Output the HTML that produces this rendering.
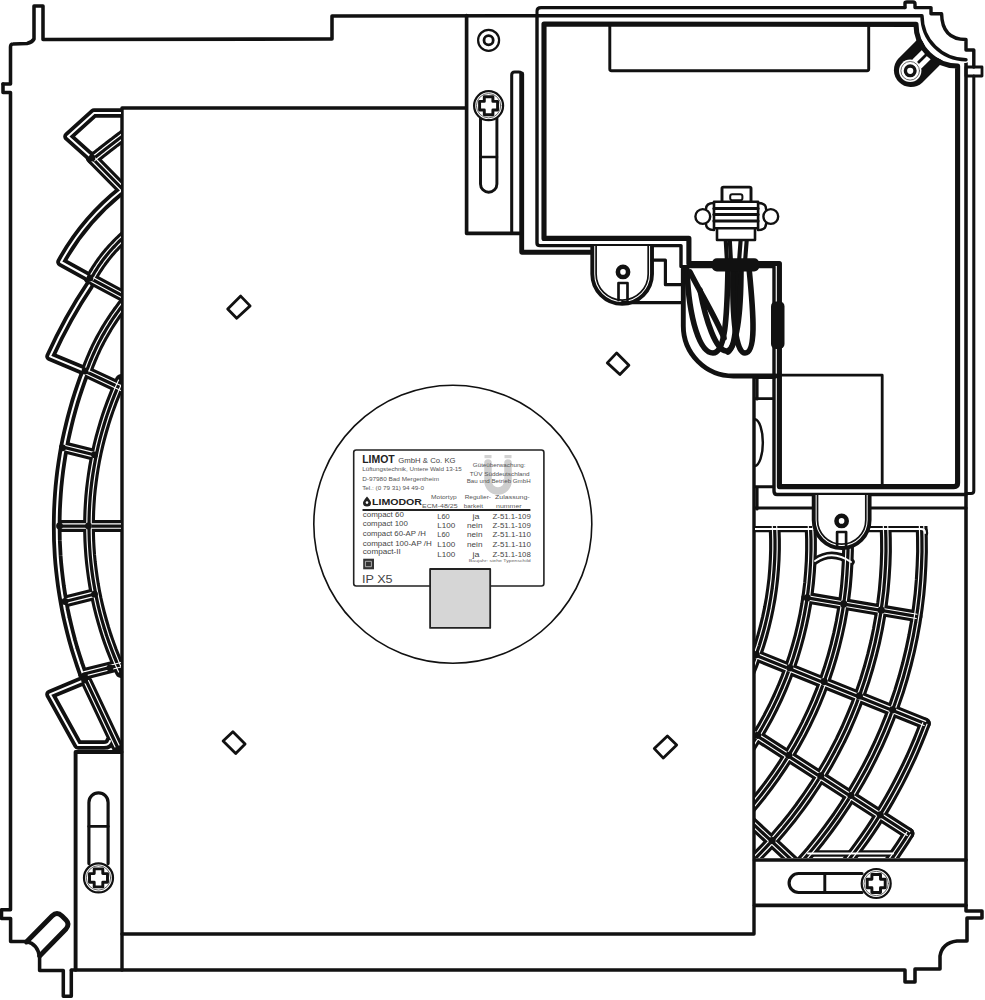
<!DOCTYPE html>
<html><head><meta charset="utf-8"><style>
html,body{margin:0;padding:0;background:#fff;}
svg{display:block;}
text{font-family:"Liberation Sans",sans-serif;}
</style></head><body>
<svg width="985" height="1000" viewBox="0 0 985 1000" stroke-linecap="round" stroke-linejoin="round">
<defs><filter id="soft" x="0" y="0" width="100%" height="100%"><feGaussianBlur stdDeviation="0.9"/></filter></defs>
<rect width="985" height="1000" fill="#fff"/>
<g>
<path d="M3,84 L10.5,84 L10.5,47 Q10.5,44 13,44 L27,43.5 Q32,42.5 34,39 L34,6 L43,6 L43,39.5 L332,39 L332,16 L537,15.7" fill="none" stroke="#111" stroke-width="3.54" />
<path d="M3,84 L3,92.5 L10.5,92.5 L10.5,909.8 L1.5,909.8 L1.5,918.4 L10.6,918.4 L10.6,941.5 L26.4,941.5 Q38,944 39.6,957.3 L39.6,970.5 L63.3,970.5 L63.3,996.2 L71.3,996.2 L71.3,970.5" fill="none" stroke="#111" stroke-width="3.54" />
<path d="M71.3,970 L905,970 L905,982 L915,982 L915,969 L940,969 L940,956 Q942,943 957,941 L967,941 L967,918 L982,918 L982,911 L966,911 L966,61" fill="none" stroke="#111" stroke-width="3.54" />
<path d="M26.4,942 L52,916 Q57,911 62,916 L66,920 Q70,924 66,929 L39.6,956" fill="none" stroke="#111" stroke-width="4.88" />
<path d="M466,108 L122,108 L122,970" fill="none" stroke="#111" stroke-width="3.42" />
<path d="M122,934 L754,934 L754,378" fill="none" stroke="#111" stroke-width="3.42" />
<path d="M466.6,15.7 L466.6,233.4 L519.5,233.4" fill="none" stroke="#111" stroke-width="3.66" />
<path d="M511.7,233 L511.7,75 Q511.7,72 514.7,72 L518.7,72 Q521.7,72 521.7,75" fill="none" stroke="#111" stroke-width="3.05" />
<path d="M521.7,74 L521.7,252.2 L592,252.2" fill="none" stroke="#111" stroke-width="4.88" />
<circle cx="488.6" cy="40.3" r="10.5" fill="none" stroke="#111" stroke-width="2.2"/>
<circle cx="488.6" cy="40.3" r="4.6" fill="none" stroke="#111" stroke-width="2.8"/>
<path d="M480.5,118 L480.5,184 A8.2,8.2 0 0 0 496.9,184 L496.9,118" fill="none" stroke="#111" stroke-width="2.93" />
<path d="M480.5,157 L496.9,157" fill="none" stroke="#111" stroke-width="2.68" />
<circle cx="488.6" cy="105.7" r="14.5" fill="#fff" stroke="#111" stroke-width="2.2"/>
<circle cx="488.6" cy="105.7" r="12.2" fill="none" stroke="#555" stroke-width="0.9"/>
<path d="M484.3,96.7 L492.90000000000003,96.7 L492.90000000000003,101.4 L497.6,101.4 L497.6,110.0 L492.90000000000003,110.0 L492.90000000000003,114.7 L484.3,114.7 L484.3,110.0 L479.6,110.0 L479.6,101.4 L484.3,101.4 Z" fill="none" stroke="#111" stroke-width="2.93" stroke-linejoin="round"/>
<path d="M537,15.7 L537,11 Q537,7.6 541,7.6 L905,7.6" fill="none" stroke="#111" stroke-width="3.05" />
<path d="M919.4,37.6 L898.2,58.8 A17,17 0 0 0 922.2,82.8 L943.4,61.6 Z" fill="#111"/>
<circle cx="958" cy="24" r="39.5" fill="#fff"/>
<circle cx="910.2" cy="70.8" r="11.2" fill="#fff"/>
<circle cx="910.2" cy="70.8" r="9.3" fill="none" stroke="#555" stroke-width="0.9"/>
<circle cx="910.2" cy="70.8" r="4.8" fill="none" stroke="#111" stroke-width="3.4"/>
<path d="M912.4,59.6 L926.2,45.8 L929.7,49.3 L915.9,63.1 Z" fill="#fff"/>
<path d="M917.9,65.1 L931.7,51.3 L935.2,54.8 L921.4,68.6 Z" fill="#fff"/>
<circle cx="958" cy="24" r="39.5" fill="#fff"/>
<path d="M537,15.7 L922,15.7 A44,44 0 0 0 966,59.7" fill="none" stroke="#111" stroke-width="3.42" />
<path d="M537,15.7 L537,243 Q537,245.6 540,245.6 L681,245.6 L681,266.6 L774,266.6 L774,491 Q774,494.5 777,494.5 L966,494.5" fill="none" stroke="#111" stroke-width="3.42" />
<path d="M544,24 L544,238.4 L688.9,238.4 L688.9,263.5 L779.4,263.5 L779.4,486.6 L954,486.6 Q957.6,486.6 957.6,483 L957.6,66 A41.6,41.6 0 0 1 916,24.4 Z" fill="none" stroke="#111" stroke-width="5.12" />
<path d="M905,7.6 L905,3 Q905,2 907,2 L913,2 Q915,2 915,4 L915,7.6 L931,7.6 L931,13.7 L941.6,13.7 Q942,39.5 966,39.5 L966,50 L973.8,50 L973.8,67" fill="none" stroke="#111" stroke-width="3.42" />
<path d="M966,67 L982,67 L982,76 L966,76 Z" fill="none" stroke="#111" stroke-width="2.81" />
<path d="M973.8,76 L973.8,491 Q973.8,493.4 971,493.4 L966,493.4" fill="none" stroke="#111" stroke-width="3.05" />
<path d="M609.8,24 L609.8,69 Q609.8,70.7 611.5,70.7 L867,70.7 Q868.7,70.7 868.7,69 L868.7,24" fill="none" stroke="#111" stroke-width="2.93" />
<path d="M755,508 L812,508" fill="none" stroke="#111" stroke-width="3.17" />
<path d="M870,508 L966,508" fill="none" stroke="#111" stroke-width="3.17" />
<path d="M779.4,375.2 L882.2,375.2 L882.2,486.6" fill="none" stroke="#111" stroke-width="2.81" />
<path d="M75.6,969.8 L75.6,752 L121.5,752" fill="none" stroke="#111" stroke-width="3.90" />
<path d="M88.9,863.6 L88.9,802.4 A9.6,9.6 0 0 1 108.1,802.4 L108.1,863.6" fill="none" stroke="#111" stroke-width="3.17" />
<path d="M88.9,826.4 L108.1,826.4" fill="none" stroke="#111" stroke-width="2.93" />
<circle cx="98.5" cy="877.9" r="14.5" fill="#fff" stroke="#111" stroke-width="2.2"/>
<circle cx="98.5" cy="877.9" r="12.2" fill="none" stroke="#555" stroke-width="0.9"/>
<path d="M94.2,868.9 L102.8,868.9 L102.8,873.6 L107.5,873.6 L107.5,882.1999999999999 L102.8,882.1999999999999 L102.8,886.9 L94.2,886.9 L94.2,882.1999999999999 L89.5,882.1999999999999 L89.5,873.6 L94.2,873.6 Z" fill="none" stroke="#111" stroke-width="2.93" stroke-linejoin="round"/>
<path d="M754.5,860 L966,860" fill="none" stroke="#111" stroke-width="3.66" />
<path d="M754.5,905.4 L966,905.4" fill="none" stroke="#111" stroke-width="3.66" />
<path d="M862,873.5 L798.6,873.5 A9.5,9.5 0 0 0 798.6,892.5 L862,892.5" fill="none" stroke="#111" stroke-width="3.17" />
<path d="M824.8,873.5 L824.8,892.5" fill="none" stroke="#111" stroke-width="2.93" />
<circle cx="876.2" cy="883.5" r="14.5" fill="#fff" stroke="#111" stroke-width="2.2"/>
<circle cx="876.2" cy="883.5" r="12.2" fill="none" stroke="#555" stroke-width="0.9"/>
<path d="M871.9000000000001,874.5 L880.5,874.5 L880.5,879.2 L885.2,879.2 L885.2,887.8 L880.5,887.8 L880.5,892.5 L871.9000000000001,892.5 L871.9000000000001,887.8 L867.2,887.8 L867.2,879.2 L871.9000000000001,879.2 Z" fill="none" stroke="#111" stroke-width="2.93" stroke-linejoin="round"/>
<g clip-path="url(#cr)"><path d="M773.2,510.5 L774.1,520.3 L774.7,530.0 L775.0,539.8 L775.0,549.6 L774.7,559.4 L774.1,569.2 L773.3,578.9 L772.1,588.6 L770.7,598.3 L768.9,608.0 L766.9,617.5 L764.6,627.1 L762.1,636.5 L759.2,645.9 L756.1,655.2 L752.7,664.3 L749.0,673.4 L745.0,682.4 L740.8,691.2 L736.4,699.9 L731.6,708.5 L726.7,716.9 L721.4,725.2 L716.0,733.3 L710.3,741.3 L704.3,749.1 L698.2,756.7 L691.8,764.1 L685.2,771.3 L678.3,778.3 L671.3,785.2 L664.1,791.8 L656.7,798.2 L649.1,804.3 L641.3,810.3 L633.3,816.0 L625.2,821.4 L616.9,826.7 L608.5,831.6 L599.9,836.4" fill="none" stroke="#111" stroke-width="11.8"/><path d="M809.0,506.7 L810.0,517.6 L810.6,528.4 L811.0,539.3 L811.0,550.1 L810.7,561.0 L810.0,571.8 L809.1,582.6 L807.8,593.4 L806.2,604.1 L804.3,614.8 L802.0,625.5 L799.5,636.0 L796.6,646.5 L793.5,656.9 L790.0,667.2 L786.2,677.4 L782.2,687.4 L777.8,697.4 L773.1,707.2 L768.2,716.8 L762.9,726.3 L757.4,735.7 L751.6,744.9 L745.5,753.9 L739.2,762.7 L732.6,771.3 L725.8,779.8 L718.7,788.0 L711.4,796.0 L703.8,803.8 L696.0,811.4 L688.0,818.7 L679.8,825.8 L671.3,832.6 L662.7,839.2 L653.9,845.5 L644.9,851.6 L635.7,857.4 L626.3,862.9 L616.8,868.2" fill="none" stroke="#111" stroke-width="11.8"/><path d="M845.8,502.9 L846.9,514.8 L847.6,526.7 L848.0,538.7 L848.0,550.6 L847.6,562.6 L846.9,574.5 L845.9,586.4 L844.5,598.3 L842.7,610.1 L840.6,621.9 L838.1,633.6 L835.3,645.2 L832.2,656.8 L828.7,668.2 L824.9,679.5 L820.7,690.7 L816.2,701.8 L811.4,712.8 L806.3,723.6 L800.8,734.2 L795.1,744.7 L789.0,755.0 L782.6,765.1 L775.9,775.0 L769.0,784.7 L761.7,794.2 L754.2,803.5 L746.4,812.6 L738.3,821.4 L730.0,830.0 L721.4,838.3 L712.6,846.4 L703.5,854.2 L694.2,861.7 L684.7,869.0 L675.0,875.9 L665.1,882.6 L655.0,889.0 L644.7,895.1 L634.2,900.8" fill="none" stroke="#111" stroke-width="11.8"/><path d="M883.6,498.9 L884.8,511.9 L885.5,525.0 L885.9,538.1 L886.0,551.2 L885.6,564.2 L884.8,577.3 L883.7,590.3 L882.1,603.3 L880.2,616.3 L877.9,629.1 L875.2,642.0 L872.1,654.7 L868.7,667.3 L864.9,679.8 L860.7,692.2 L856.2,704.5 L851.2,716.6 L846.0,728.6 L840.4,740.4 L834.4,752.0 L828.1,763.5 L821.4,774.8 L814.4,785.8 L807.1,796.7 L799.5,807.3 L791.6,817.7 L783.3,827.9 L774.8,837.8 L765.9,847.4 L756.8,856.8 L747.4,865.9 L737.8,874.8 L727.9,883.3 L717.7,891.6 L707.3,899.5 L696.7,907.1 L685.8,914.4 L674.8,921.4 L663.5,928.1 L652.0,934.4" fill="none" stroke="#111" stroke-width="11.8"/><path d="M919.4,495.1 L920.7,509.2 L921.5,523.4 L921.9,537.5 L922.0,551.7 L921.5,565.8 L920.7,579.9 L919.5,594.0 L917.8,608.1 L915.7,622.1 L913.2,636.0 L910.3,649.9 L907.0,663.6 L903.3,677.3 L899.2,690.8 L894.6,704.2 L889.7,717.5 L884.4,730.6 L878.7,743.6 L872.6,756.3 L866.2,768.9 L859.3,781.3 L852.1,793.5 L844.6,805.5 L836.7,817.2 L828.4,828.7 L819.9,840.0 L810.9,851.0 L801.7,861.7 L792.1,872.1 L782.3,882.3 L772.1,892.1 L761.7,901.7 L751.0,910.9 L740.0,919.9 L728.7,928.4 L717.2,936.7 L705.5,944.6 L693.5,952.1 L681.3,959.3 L668.9,966.2" fill="none" stroke="#111" stroke-width="11.8"/><path d="M924.9,723.5 L921.6,732.1 L918.1,740.8 L914.5,749.3 L910.7,757.8 L906.7,766.2 L902.6,774.6 L898.4,782.8 L894.0,791.0 L889.5,799.1 L884.8,807.2 L880.0,815.1 L875.0,823.0 L869.9,830.7 L864.6,838.4 L859.2,845.9 L853.7,853.4 L848.0,860.8 L842.2,868.0 L836.3,875.2 L830.2,882.2 L824.1,889.2 L817.7,896.0 L811.3,902.7 L804.8,909.3 L798.1,915.8 L791.3,922.1 L784.4,928.3 L777.4,934.4 L770.3,940.4 L763.0,946.3 L755.7,952.0 L748.3,957.5 L740.7,963.0 L733.1,968.3 L725.4,973.4 L717.5,978.4 L709.6,983.3 L701.6,988.0 L693.5,992.6 L685.4,997.1" fill="none" stroke="#111" stroke-width="11.8"/><path d="M908.5,833.5 L904.7,839.6 L900.8,845.6 L896.8,851.6 L892.7,857.5 L888.6,863.3 L884.4,869.1 L880.1,874.9 L875.7,880.6 L871.3,886.2 L866.8,891.7 L862.2,897.3 L857.5,902.7 L852.8,908.1 L848.0,913.4 L843.1,918.7 L838.2,923.9 L833.1,929.0 L828.1,934.1 L822.9,939.1 L817.7,944.0 L812.4,948.9 L807.1,953.6 L801.7,958.4 L796.3,963.0 L790.7,967.6 L785.2,972.1 L779.5,976.5 L773.8,980.9 L768.1,985.2 L762.3,989.4 L756.4,993.5 L750.5,997.5 L744.5,1001.5 L738.5,1005.4 L732.4,1009.2 L726.3,1013.0 L720.1,1016.6 L713.9,1020.2 L707.6,1023.7 L701.3,1027.1" fill="none" stroke="#111" stroke-width="11.8"/><path d="M807.2,597.8 L916.6,616.3" fill="none" stroke="#111" stroke-width="11.8"/><path d="M718.9,640.4 L924.9,723.5" fill="none" stroke="#111" stroke-width="11.8"/><path d="M693.3,694.8 L908.5,833.5" fill="none" stroke="#111" stroke-width="11.8"/><path d="M661.2,738.3 L873.3,936.1" fill="none" stroke="#111" stroke-width="11.8"/><path d="M755,529 L921,529 Q925,529 925,533" fill="none" stroke="#111" stroke-width="6.4"/><path d="M815,561 Q832,549 851,562" fill="none" stroke="#111" stroke-width="7.4"/><path d="M808,853.5 L893,853.5" fill="none" stroke="#111" stroke-width="6.4"/><path d="M771.0,510.7 L771.9,520.4 L772.5,530.1 L772.8,539.9 L772.8,549.6 L772.5,559.3 L771.9,569.0 L771.1,578.7 L769.9,588.4 L768.5,598.0 L766.8,607.5 L764.8,617.1 L762.5,626.5 L759.9,635.9 L757.1,645.2 L754.0,654.4 L750.6,663.5 L747.0,672.6 L743.0,681.5 L738.9,690.2 L734.4,698.9 L729.7,707.4 L724.8,715.8 L719.6,724.0 L714.2,732.1 L708.5,740.0 L702.6,747.7 L696.5,755.3 L690.1,762.6 L683.6,769.8 L676.8,776.8 L669.8,783.6 L662.6,790.1 L655.3,796.5 L647.7,802.6 L640.0,808.5 L632.1,814.2 L624.0,819.6 L615.8,824.8 L607.4,829.7 L598.9,834.4" fill="none" stroke="#fff" stroke-width="1.15"/><path d="M775.4,510.3 L776.3,520.1 L776.9,529.9 L777.2,539.8 L777.2,549.6 L776.9,559.5 L776.3,569.3 L775.4,579.1 L774.3,588.9 L772.8,598.7 L771.1,608.4 L769.1,618.0 L766.8,627.6 L764.2,637.1 L761.3,646.6 L758.1,655.9 L754.7,665.1 L751.0,674.3 L747.0,683.3 L742.8,692.2 L738.3,701.0 L733.6,709.6 L728.5,718.1 L723.3,726.4 L717.8,734.6 L712.0,742.6 L706.1,750.4 L699.9,758.1 L693.4,765.6 L686.8,772.8 L679.9,779.9 L672.8,786.8 L665.6,793.4 L658.1,799.9 L650.4,806.1 L642.6,812.0 L634.6,817.8 L626.4,823.3 L618.1,828.5 L609.6,833.6 L601.0,838.3" fill="none" stroke="#fff" stroke-width="1.15"/><path d="M806.8,507.0 L807.8,517.7 L808.4,528.5 L808.8,539.3 L808.8,550.1 L808.5,560.9 L807.8,571.6 L806.9,582.4 L805.6,593.1 L804.0,603.8 L802.1,614.4 L799.9,625.0 L797.4,635.5 L794.5,645.9 L791.4,656.2 L787.9,666.4 L784.2,676.6 L780.1,686.6 L775.8,696.4 L771.1,706.2 L766.2,715.8 L761.0,725.2 L755.5,734.5 L749.8,743.7 L743.7,752.6 L737.4,761.4 L730.9,770.0 L724.1,778.4 L717.0,786.5 L709.8,794.5 L702.2,802.2 L694.5,809.8 L686.5,817.0 L678.4,824.1 L670.0,830.9 L661.4,837.4 L652.6,843.7 L643.7,849.8 L634.5,855.5 L625.2,861.0 L615.8,866.2" fill="none" stroke="#fff" stroke-width="1.15"/><path d="M811.2,506.5 L812.2,517.4 L812.8,528.3 L813.2,539.2 L813.2,550.1 L812.8,561.1 L812.2,572.0 L811.2,582.8 L810.0,593.7 L808.4,604.5 L806.4,615.3 L804.2,625.9 L801.6,636.6 L798.8,647.1 L795.6,657.6 L792.1,667.9 L788.3,678.2 L784.2,688.3 L779.8,698.3 L775.1,708.1 L770.1,717.9 L764.8,727.4 L759.3,736.8 L753.4,746.1 L747.3,755.1 L741.0,764.0 L734.4,772.7 L727.5,781.2 L720.3,789.5 L713.0,797.5 L705.4,805.4 L697.5,813.0 L689.5,820.3 L681.2,827.5 L672.7,834.4 L664.0,841.0 L655.1,847.3 L646.1,853.4 L636.8,859.3 L627.4,864.8 L617.9,870.1" fill="none" stroke="#fff" stroke-width="1.15"/><path d="M843.6,503.1 L844.7,514.9 L845.4,526.8 L845.8,538.7 L845.8,550.6 L845.4,562.5 L844.7,574.4 L843.7,586.2 L842.3,598.0 L840.5,609.8 L838.4,621.5 L836.0,633.1 L833.2,644.7 L830.1,656.1 L826.6,667.5 L822.8,678.8 L818.7,689.9 L814.2,701.0 L809.4,711.8 L804.3,722.6 L798.9,733.2 L793.1,743.6 L787.1,753.8 L780.8,763.9 L774.1,773.7 L767.2,783.4 L760.0,792.9 L752.5,802.1 L744.7,811.1 L736.7,819.9 L728.4,828.4 L719.9,836.7 L711.1,844.7 L702.1,852.5 L692.9,860.0 L683.4,867.2 L673.7,874.1 L663.9,880.8 L653.8,887.1 L643.6,893.1 L633.2,898.9" fill="none" stroke="#fff" stroke-width="1.15"/><path d="M848.0,502.6 L849.1,514.6 L849.8,526.6 L850.2,538.6 L850.2,550.7 L849.8,562.7 L849.1,574.7 L848.1,586.7 L846.6,598.6 L844.9,610.5 L842.8,622.3 L840.3,634.1 L837.5,645.8 L834.3,657.4 L830.8,668.9 L827.0,680.3 L822.8,691.5 L818.3,702.7 L813.4,713.7 L808.3,724.5 L802.8,735.2 L797.0,745.8 L790.9,756.1 L784.4,766.3 L777.7,776.3 L770.7,786.0 L763.4,795.6 L755.9,804.9 L748.0,814.0 L739.9,822.9 L731.5,831.5 L722.9,839.9 L714.0,848.0 L704.9,855.9 L695.6,863.4 L686.0,870.7 L676.3,877.7 L666.3,884.4 L656.1,890.9 L645.8,897.0 L635.2,902.8" fill="none" stroke="#fff" stroke-width="1.15"/><path d="M881.4,499.1 L882.6,512.1 L883.3,525.1 L883.7,538.1 L883.8,551.1 L883.4,564.1 L882.6,577.1 L881.5,590.1 L879.9,603.0 L878.0,615.9 L875.7,628.7 L873.1,641.5 L870.0,654.1 L866.6,666.7 L862.8,679.1 L858.6,691.5 L854.1,703.7 L849.2,715.7 L844.0,727.7 L838.4,739.4 L832.4,751.0 L826.2,762.4 L819.5,773.6 L812.6,784.6 L805.3,795.4 L797.7,806.0 L789.8,816.4 L781.6,826.5 L773.1,836.3 L764.3,845.9 L755.3,855.3 L745.9,864.3 L736.3,873.1 L726.5,881.6 L716.4,889.8 L706.0,897.7 L695.4,905.3 L684.6,912.6 L673.6,919.5 L662.4,926.2 L651.0,932.4" fill="none" stroke="#fff" stroke-width="1.15"/><path d="M885.8,498.7 L887.0,511.8 L887.7,524.9 L888.1,538.0 L888.2,551.2 L887.8,564.3 L887.0,577.5 L885.9,590.6 L884.3,603.6 L882.4,616.6 L880.1,629.6 L877.4,642.4 L874.3,655.2 L870.8,667.9 L867.0,680.5 L862.8,692.9 L858.2,705.3 L853.3,717.5 L848.0,729.5 L842.3,741.4 L836.3,753.1 L830.0,764.6 L823.3,775.9 L816.3,787.0 L808.9,797.9 L801.3,808.6 L793.3,819.1 L785.0,829.3 L776.4,839.3 L767.5,849.0 L758.4,858.4 L749.0,867.5 L739.3,876.4 L729.3,885.0 L719.1,893.3 L708.6,901.3 L697.9,908.9 L687.0,916.3 L675.9,923.3 L664.6,930.0 L653.1,936.3" fill="none" stroke="#fff" stroke-width="1.15"/><path d="M917.2,495.4 L918.5,509.4 L919.3,523.5 L919.7,537.5 L919.8,551.6 L919.3,565.7 L918.5,579.8 L917.3,593.8 L915.6,607.8 L913.6,621.7 L911.1,635.6 L908.2,649.4 L904.9,663.1 L901.2,676.7 L897.1,690.1 L892.6,703.5 L887.7,716.7 L882.4,729.8 L876.7,742.7 L870.7,755.4 L864.2,767.9 L857.4,780.2 L850.3,792.4 L842.7,804.3 L834.9,816.0 L826.7,827.4 L818.1,838.6 L809.3,849.6 L800.1,860.2 L790.5,870.6 L780.7,880.7 L770.6,890.5 L760.2,900.1 L749.6,909.3 L738.6,918.1 L727.4,926.7 L716.0,934.9 L704.3,942.7 L692.4,950.3 L680.2,957.4 L667.9,964.2" fill="none" stroke="#fff" stroke-width="1.15"/><path d="M921.6,494.9 L922.9,509.1 L923.7,523.3 L924.1,537.5 L924.2,551.7 L923.7,565.9 L922.9,580.1 L921.7,594.3 L920.0,608.4 L917.9,622.4 L915.4,636.4 L912.5,650.4 L909.1,664.2 L905.4,677.9 L901.3,691.5 L896.7,705.0 L891.8,718.3 L886.4,731.5 L880.7,744.5 L874.6,757.3 L868.1,770.0 L861.2,782.4 L854.0,794.7 L846.4,806.7 L838.5,818.5 L830.2,830.0 L821.6,841.3 L812.6,852.4 L803.3,863.2 L793.7,873.6 L783.8,883.8 L773.6,893.7 L763.2,903.3 L752.4,912.6 L741.3,921.6 L730.0,930.2 L718.5,938.5 L706.7,946.4 L694.7,954.0 L682.4,961.2 L670.0,968.1" fill="none" stroke="#fff" stroke-width="1.15"/><path d="M922.8,722.7 L919.5,731.3 L916.1,739.9 L912.4,748.4 L908.7,756.9 L904.8,765.3 L900.7,773.6 L896.5,781.8 L892.1,790.0 L887.6,798.0 L882.9,806.0 L878.1,813.9 L873.1,821.8 L868.0,829.5 L862.8,837.1 L857.4,844.7 L851.9,852.1 L846.3,859.4 L840.5,866.7 L834.6,873.8 L828.6,880.8 L822.4,887.7 L816.1,894.5 L809.7,901.2 L803.2,907.7 L796.6,914.2 L789.8,920.5 L782.9,926.7 L776.0,932.8 L768.9,938.7 L761.7,944.5 L754.4,950.2 L747.0,955.8 L739.4,961.2 L731.8,966.4 L724.1,971.6 L716.4,976.6 L708.5,981.4 L700.5,986.1 L692.5,990.7 L684.3,995.1" fill="none" stroke="#fff" stroke-width="1.15"/><path d="M927.0,724.2 L923.6,733.0 L920.1,741.6 L916.5,750.2 L912.7,758.7 L908.7,767.2 L904.6,775.6 L900.4,783.9 L895.9,792.1 L891.4,800.2 L886.7,808.3 L881.8,816.3 L876.8,824.1 L871.7,831.9 L866.4,839.6 L861.0,847.2 L855.4,854.7 L849.8,862.1 L843.9,869.4 L838.0,876.6 L831.9,883.7 L825.7,890.7 L819.3,897.5 L812.9,904.3 L806.3,910.9 L799.6,917.4 L792.8,923.7 L785.9,930.0 L778.8,936.1 L771.7,942.1 L764.4,948.0 L757.0,953.7 L749.6,959.3 L742.0,964.8 L734.3,970.1 L726.6,975.3 L718.7,980.3 L710.8,985.2 L702.7,990.0 L694.6,994.6 L686.4,999.0" fill="none" stroke="#fff" stroke-width="1.15"/><path d="M906.7,832.4 L902.9,838.4 L899.0,844.4 L895.0,850.3 L890.9,856.2 L886.8,862.0 L882.6,867.8 L878.3,873.5 L874.0,879.2 L869.6,884.8 L865.1,890.3 L860.5,895.8 L855.8,901.3 L851.1,906.6 L846.3,911.9 L841.5,917.2 L836.6,922.3 L831.6,927.5 L826.5,932.5 L821.4,937.5 L816.2,942.4 L811.0,947.2 L805.7,952.0 L800.3,956.7 L794.8,961.3 L789.3,965.9 L783.8,970.4 L778.2,974.8 L772.5,979.1 L766.8,983.4 L761.0,987.6 L755.1,991.7 L749.2,995.7 L743.3,999.7 L737.3,1003.6 L731.3,1007.4 L725.2,1011.1 L719.0,1014.7 L712.8,1018.3 L706.6,1021.8 L700.3,1025.1" fill="none" stroke="#fff" stroke-width="1.15"/><path d="M910.4,834.7 L906.6,840.8 L902.6,846.8 L898.6,852.8 L894.6,858.7 L890.4,864.6 L886.2,870.4 L881.8,876.2 L877.5,881.9 L873.0,887.6 L868.5,893.1 L863.9,898.7 L859.2,904.1 L854.4,909.6 L849.6,914.9 L844.7,920.2 L839.7,925.4 L834.7,930.5 L829.6,935.6 L824.5,940.7 L819.2,945.6 L813.9,950.5 L808.6,955.3 L803.2,960.0 L797.7,964.7 L792.1,969.3 L786.5,973.8 L780.9,978.3 L775.1,982.6 L769.4,986.9 L763.5,991.2 L757.6,995.3 L751.7,999.4 L745.7,1003.4 L739.7,1007.3 L733.6,1011.1 L727.4,1014.8 L721.2,1018.5 L715.0,1022.1 L708.7,1025.6 L702.4,1029.0" fill="none" stroke="#fff" stroke-width="1.15"/><path d="M807.5,595.7 L917.0,614.2" fill="none" stroke="#fff" stroke-width="1.15"/><path d="M806.8,600.0 L916.3,618.5" fill="none" stroke="#fff" stroke-width="1.15"/><path d="M719.7,638.3 L925.7,721.4" fill="none" stroke="#fff" stroke-width="1.15"/><path d="M718.0,642.4 L924.1,725.5" fill="none" stroke="#fff" stroke-width="1.15"/><path d="M694.5,692.9 L909.7,831.7" fill="none" stroke="#fff" stroke-width="1.15"/><path d="M692.1,696.6 L907.3,835.4" fill="none" stroke="#fff" stroke-width="1.15"/><path d="M662.7,736.7 L874.8,934.5" fill="none" stroke="#fff" stroke-width="1.15"/><path d="M659.7,739.9 L871.8,937.7" fill="none" stroke="#fff" stroke-width="1.15"/><path d="M755,529 L921,529 Q925,529 925,533" fill="none" stroke="#fff" stroke-width="2.0"/><path d="M815,561 Q832,549 851,562" fill="none" stroke="#fff" stroke-width="2.0"/><path d="M808,853.5 L893,853.5" fill="none" stroke="#fff" stroke-width="2.0"/><circle cx="807.2" cy="597.8" r="3.6" fill="#111"/><circle cx="843.7" cy="603.9" r="3.6" fill="#111"/><circle cx="881.2" cy="610.2" r="3.6" fill="#111"/><circle cx="756.2" cy="654.7" r="3.6" fill="#111"/><circle cx="789.8" cy="667.8" r="3.6" fill="#111"/><circle cx="824.1" cy="681.6" r="3.6" fill="#111"/><circle cx="859.4" cy="695.9" r="3.6" fill="#111"/><circle cx="892.6" cy="709.8" r="3.6" fill="#111"/><circle cx="727.2" cy="716.1" r="3.6" fill="#111"/><circle cx="757.6" cy="735.3" r="3.6" fill="#111"/><circle cx="788.8" cy="755.3" r="3.6" fill="#111"/><circle cx="820.7" cy="775.9" r="3.6" fill="#111"/><circle cx="850.9" cy="795.5" r="3.6" fill="#111"/><circle cx="880.2" cy="814.8" r="3.6" fill="#111"/><circle cx="690.7" cy="765.3" r="3.6" fill="#111"/><circle cx="717.2" cy="789.7" r="3.6" fill="#111"/><circle cx="744.3" cy="814.8" r="3.6" fill="#111"/><circle cx="772.1" cy="840.7" r="3.6" fill="#111"/><circle cx="798.4" cy="865.3" r="3.6" fill="#111"/><circle cx="823.9" cy="889.3" r="3.6" fill="#111"/><circle cx="848.6" cy="912.7" r="3.6" fill="#111"/></g>
<g clip-path="url(#cl)"><path d="M85.6,371.0 L82.7,378.7 L80.0,386.4 L77.4,394.1 L75.0,401.8 L72.8,409.5 L70.7,417.2 L68.8,424.9 L67.0,432.6 L65.3,440.3 L63.8,448.0 L62.5,455.7 L61.3,463.4 L60.2,471.1 L59.3,478.8 L58.5,486.5 L57.9,494.2 L57.4,501.9 L57.0,509.6 L56.8,517.3 L56.7,525.0 L56.8,532.7 L56.9,540.4 L57.3,548.1 L57.7,555.8 L58.3,563.5 L59.1,571.2 L60.0,578.9 L61.0,586.6 L62.2,594.3 L63.5,602.0 L64.9,609.7 L66.5,617.4 L68.3,625.1 L70.2,632.8 L72.2,640.5 L74.4,648.2 L76.8,655.9 L79.3,663.6 L82.0,671.3 L84.8,679.0" fill="none" stroke="#111" stroke-width="9.6"/><path d="M121.0,380.0 L117.7,387.3 L114.7,394.6 L111.8,401.9 L109.1,409.2 L106.6,416.5 L104.3,423.8 L102.2,431.1 L100.2,438.4 L98.4,445.7 L96.7,453.0 L95.2,460.3 L93.9,467.6 L92.8,474.9 L91.8,482.2 L90.9,489.5 L90.2,496.8 L89.7,504.1 L89.3,511.4 L89.1,518.7 L89.0,526.0 L89.1,533.3 L89.3,540.6 L89.7,547.9 L90.2,555.2 L90.9,562.5 L91.8,569.8 L92.8,577.1 L93.9,584.4 L95.2,591.7 L96.7,599.0 L98.4,606.3 L100.2,613.6 L102.2,620.9 L104.3,628.2 L106.6,635.5 L109.1,642.8 L111.8,650.1 L114.7,657.4 L117.7,664.7 L121.0,672.0" fill="none" stroke="#111" stroke-width="11.8"/><path d="M59.5,526.0 L124.0,526.0" fill="none" stroke="#111" stroke-width="11.8"/><path d="M65.0,447.6 L95.0,455.0" fill="none" stroke="#111" stroke-width="11.8"/><path d="M67.0,601.0 L95.0,594.0" fill="none" stroke="#111" stroke-width="11.8"/><path d="M84.0,674.0 L124.0,664.0" fill="none" stroke="#111" stroke-width="11.8"/><path d="M93.0,159.0 L94.3,158.0 L95.5,157.0 L96.8,156.0 L98.0,155.0 L99.3,154.0 L100.6,153.0 L101.8,152.0 L103.1,151.0 L104.4,150.0 L105.7,149.0 L107.0,148.0 L108.2,147.0 L109.5,146.0 L110.8,145.0 L112.1,144.0 L113.4,143.0 L114.8,142.0 L116.1,141.0 L117.4,140.0 L118.7,139.0 L120.0,138.0 L121.3,137.0 L122.7,136.0 L124.0,135.0" fill="none" stroke="#111" stroke-width="11.8"/><path d="M91.0,279.0 L92.0,277.1 L93.1,275.2 L94.1,273.3 L95.2,271.4 L96.4,269.6 L97.6,267.8 L98.8,265.9 L100.0,264.1 L101.3,262.3 L102.6,260.5 L103.9,258.8 L105.2,257.0 L106.6,255.3 L108.1,253.5 L109.5,251.8 L111.0,250.1 L112.5,248.4 L114.1,246.8 L115.6,245.1 L117.3,243.4 L118.9,241.8 L120.6,240.2 L122.3,238.6 L124.0,237.0" fill="none" stroke="#111" stroke-width="11.8"/><path d="M86.7,371.0 L87.7,368.0 L88.8,365.1 L90.0,362.2 L91.2,359.3 L92.4,356.4 L93.6,353.5 L95.0,350.6 L96.3,347.7 L97.7,344.9 L99.2,342.0 L100.6,339.2 L102.2,336.4 L103.8,333.6 L105.4,330.8 L107.0,328.0 L108.7,325.2 L110.5,322.5 L112.3,319.7 L114.1,317.0 L116.0,314.3 L117.9,311.6 L119.9,308.9 L121.9,306.2 L124.0,303.5" fill="none" stroke="#111" stroke-width="11.8"/><path d="M91.5,157.5 L125.0,191.5" fill="none" stroke="#111" stroke-width="11.8"/><path d="M89.5,278.0 L125.0,297.0" fill="none" stroke="#111" stroke-width="11.8"/><path d="M84.5,371.0 L125.0,390.0" fill="none" stroke="#111" stroke-width="11.8"/><path d="M86.5,681.5 L117.0,746.0" fill="none" stroke="#111" stroke-width="11.8"/><path d="M124,113 L94,113 L68,136.5 L92,158" fill="none" stroke="#111" stroke-width="9.6"/><path d="M122,190 Q84,220 61,262 L90,278" fill="none" stroke="#111" stroke-width="9.6"/><path d="M89.4,285.4 Q68,317 50,356.4 L85,371" fill="none" stroke="#111" stroke-width="9.6"/><path d="M84.5,680 L50,694.4 L78,745 L104,745 Q109,745 110,741" fill="none" stroke="#111" stroke-width="9.6"/><path d="M85.6,371.0 L82.7,378.7 L80.0,386.4 L77.4,394.1 L75.0,401.8 L72.8,409.5 L70.7,417.2 L68.8,424.9 L67.0,432.6 L65.3,440.3 L63.8,448.0 L62.5,455.7 L61.3,463.4 L60.2,471.1 L59.3,478.8 L58.5,486.5 L57.9,494.2 L57.4,501.9 L57.0,509.6 L56.8,517.3 L56.7,525.0 L56.8,532.7 L56.9,540.4 L57.3,548.1 L57.7,555.8 L58.3,563.5 L59.1,571.2 L60.0,578.9 L61.0,586.6 L62.2,594.3 L63.5,602.0 L64.9,609.7 L66.5,617.4 L68.3,625.1 L70.2,632.8 L72.2,640.5 L74.4,648.2 L76.8,655.9 L79.3,663.6 L82.0,671.3 L84.8,679.0" fill="none" stroke="#fff" stroke-width="2.0"/><path d="M123.4,380.0 L120.1,387.3 L117.1,394.6 L114.2,401.9 L111.5,409.2 L108.9,416.5 L106.6,423.8 L104.4,431.1 L102.4,438.4 L100.6,445.7 L99.0,453.0 L97.5,460.3 L96.2,467.6 L95.0,474.9 L94.0,482.2 L93.1,489.5 L92.4,496.8 L91.9,504.1 L91.5,511.4 L91.3,518.7 L91.2,526.0 L91.3,533.3 L91.5,540.6 L91.9,547.9 L92.4,555.2 L93.1,562.5 L94.0,569.8 L95.0,577.1 L96.2,584.4 L97.5,591.7 L99.0,599.0 L100.6,606.3 L102.4,613.6 L104.4,620.9 L106.6,628.2 L108.9,635.5 L111.5,642.8 L114.2,650.1 L117.1,657.4 L120.1,664.7 L123.4,672.0" fill="none" stroke="#fff" stroke-width="1.15"/><path d="M118.6,380.0 L115.3,387.3 L112.3,394.6 L109.5,401.9 L106.8,409.2 L104.3,416.5 L102.0,423.8 L99.9,431.1 L97.9,438.4 L96.1,445.7 L94.5,453.0 L93.0,460.3 L91.7,467.6 L90.5,474.9 L89.5,482.2 L88.7,489.5 L88.0,496.8 L87.5,504.1 L87.1,511.4 L86.9,518.7 L86.8,526.0 L86.9,533.3 L87.1,540.6 L87.5,547.9 L88.0,555.2 L88.7,562.5 L89.5,569.8 L90.5,577.1 L91.7,584.4 L93.0,591.7 L94.5,599.0 L96.1,606.3 L97.9,613.6 L99.9,620.9 L102.0,628.2 L104.3,635.5 L106.8,642.8 L109.5,650.1 L112.3,657.4 L115.3,664.7 L118.6,672.0" fill="none" stroke="#fff" stroke-width="1.15"/><path d="M59.5,523.8 L124.0,523.8" fill="none" stroke="#fff" stroke-width="1.15"/><path d="M59.5,528.2 L124.0,528.2" fill="none" stroke="#fff" stroke-width="1.15"/><path d="M65.5,445.5 L95.5,452.9" fill="none" stroke="#fff" stroke-width="1.15"/><path d="M64.5,449.7 L94.5,457.1" fill="none" stroke="#fff" stroke-width="1.15"/><path d="M66.5,598.9 L94.5,591.9" fill="none" stroke="#fff" stroke-width="1.15"/><path d="M67.5,603.1 L95.5,596.1" fill="none" stroke="#fff" stroke-width="1.15"/><path d="M83.5,671.9 L123.5,661.9" fill="none" stroke="#fff" stroke-width="1.15"/><path d="M84.5,676.1 L124.5,666.1" fill="none" stroke="#fff" stroke-width="1.15"/><path d="M91.6,157.3 L92.9,156.3 L94.1,155.3 L95.4,154.3 L96.7,153.3 L97.9,152.3 L99.2,151.3 L100.5,150.3 L101.8,149.3 L103.0,148.3 L104.3,147.3 L105.6,146.3 L106.9,145.3 L108.2,144.3 L109.5,143.3 L110.8,142.3 L112.1,141.3 L113.4,140.3 L114.7,139.3 L116.0,138.2 L117.4,137.2 L118.7,136.2 L120.0,135.2 L121.3,134.2 L122.7,133.2" fill="none" stroke="#fff" stroke-width="1.15"/><path d="M94.4,160.7 L95.6,159.7 L96.9,158.7 L98.1,157.7 L99.4,156.7 L100.7,155.7 L101.9,154.7 L103.2,153.7 L104.5,152.7 L105.7,151.7 L107.0,150.7 L108.3,149.7 L109.6,148.7 L110.9,147.7 L112.2,146.7 L113.5,145.7 L114.8,144.7 L116.1,143.7 L117.4,142.7 L118.7,141.8 L120.0,140.8 L121.3,139.8 L122.7,138.8 L124.0,137.8 L125.3,136.8" fill="none" stroke="#fff" stroke-width="1.15"/><path d="M89.1,278.0 L90.1,276.0 L91.1,274.1 L92.2,272.2 L93.4,270.3 L94.5,268.4 L95.7,266.6 L96.9,264.7 L98.2,262.9 L99.5,261.0 L100.8,259.2 L102.1,257.4 L103.5,255.6 L104.9,253.9 L106.4,252.1 L107.8,250.4 L109.4,248.7 L110.9,246.9 L112.5,245.2 L114.1,243.6 L115.7,241.9 L117.3,240.2 L119.0,238.6 L120.8,237.0 L122.5,235.4" fill="none" stroke="#fff" stroke-width="1.15"/><path d="M92.9,280.0 L93.9,278.1 L95.0,276.3 L96.0,274.4 L97.1,272.6 L98.3,270.8 L99.4,268.9 L100.6,267.1 L101.8,265.4 L103.1,263.6 L104.3,261.8 L105.6,260.1 L107.0,258.4 L108.4,256.6 L109.8,254.9 L111.2,253.2 L112.6,251.6 L114.1,249.9 L115.7,248.3 L117.2,246.6 L118.8,245.0 L120.4,243.4 L122.1,241.8 L123.8,240.2 L125.5,238.6" fill="none" stroke="#fff" stroke-width="1.15"/><path d="M84.6,370.3 L85.7,367.3 L86.8,364.3 L87.9,361.4 L89.1,358.4 L90.4,355.5 L91.6,352.6 L93.0,349.7 L94.3,346.8 L95.7,343.9 L97.2,341.0 L98.7,338.2 L100.2,335.3 L101.8,332.5 L103.5,329.7 L105.2,326.8 L106.9,324.1 L108.6,321.3 L110.5,318.5 L112.3,315.7 L114.2,313.0 L116.2,310.3 L118.2,307.5 L120.2,304.8 L122.3,302.2" fill="none" stroke="#fff" stroke-width="1.15"/><path d="M88.8,371.7 L89.8,368.8 L90.9,365.9 L92.0,363.0 L93.2,360.1 L94.4,357.2 L95.7,354.4 L97.0,351.5 L98.3,348.7 L99.7,345.8 L101.1,343.0 L102.6,340.2 L104.1,337.4 L105.7,334.7 L107.3,331.9 L108.9,329.1 L110.6,326.4 L112.3,323.7 L114.1,320.9 L116.0,318.2 L117.8,315.5 L119.7,312.8 L121.7,310.2 L123.7,307.5 L125.7,304.8" fill="none" stroke="#fff" stroke-width="1.15"/><path d="M93.1,156.0 L126.6,190.0" fill="none" stroke="#fff" stroke-width="1.15"/><path d="M89.9,159.0 L123.4,193.0" fill="none" stroke="#fff" stroke-width="1.15"/><path d="M90.5,276.1 L126.0,295.1" fill="none" stroke="#fff" stroke-width="1.15"/><path d="M88.5,279.9 L124.0,298.9" fill="none" stroke="#fff" stroke-width="1.15"/><path d="M85.4,369.0 L125.9,388.0" fill="none" stroke="#fff" stroke-width="1.15"/><path d="M83.6,373.0 L124.1,392.0" fill="none" stroke="#fff" stroke-width="1.15"/><path d="M88.5,680.6 L119.0,745.1" fill="none" stroke="#fff" stroke-width="1.15"/><path d="M84.5,682.4 L115.0,746.9" fill="none" stroke="#fff" stroke-width="1.15"/><path d="M124,113 L94,113 L68,136.5 L92,158" fill="none" stroke="#fff" stroke-width="2.0"/><path d="M122,190 Q84,220 61,262 L90,278" fill="none" stroke="#fff" stroke-width="2.0"/><path d="M89.4,285.4 Q68,317 50,356.4 L85,371" fill="none" stroke="#fff" stroke-width="2.0"/><path d="M84.5,680 L50,694.4 L78,745 L104,745 Q109,745 110,741" fill="none" stroke="#fff" stroke-width="2.0"/><circle cx="92" cy="158" r="3.4" fill="#111"/><circle cx="90" cy="278" r="3.4" fill="#111"/><circle cx="85" cy="371" r="3.4" fill="#111"/><circle cx="62.6" cy="447.8" r="3.4" fill="#111"/><circle cx="94.5" cy="454.8" r="3.4" fill="#111"/><circle cx="59.5" cy="526" r="3.4" fill="#111"/><circle cx="88.5" cy="526" r="3.4" fill="#111"/><circle cx="65" cy="601.5" r="3.4" fill="#111"/><circle cx="94.5" cy="594.2" r="3.4" fill="#111"/><circle cx="84.5" cy="676" r="3.4" fill="#111"/><circle cx="110" cy="668" r="3.4" fill="#111"/><circle cx="84.5" cy="680" r="3.4" fill="#111"/></g>
<defs><clipPath id="cr"><rect x="755" y="526" width="230" height="332"/></clipPath><clipPath id="cl"><rect x="20" y="105" width="101" height="646"/></clipPath></defs>
<path d="M592.3,246 L592.3,274 A29.850000000000023,29.850000000000023 0 0 0 652,274 L652,246" fill="#fff" stroke="#111" stroke-width="3.90" />
<path d="M596.0999999999999,246 L596.0999999999999,274 A26.050000000000022,26.050000000000022 0 0 0 648.2,274 L648.2,246" fill="none" stroke="#111" stroke-width="1.71" />
<circle cx="623" cy="271.9" r="5.1" fill="none" stroke="#111" stroke-width="4.6"/>
<path d="M618.5,300 L618.5,283 L627.5,283 L627.5,300" fill="none" stroke="#111" stroke-width="2.68" />
<path d="M813.7,495 L813.7,520 A27.94999999999999,27.94999999999999 0 0 0 869.6,520 L869.6,495" fill="#fff" stroke="#111" stroke-width="3.90" />
<path d="M817.5,495 L817.5,520 A24.149999999999988,24.149999999999988 0 0 0 865.8000000000001,520 L865.8000000000001,495" fill="none" stroke="#111" stroke-width="1.71" />
<circle cx="841.6" cy="520.9" r="5.1" fill="none" stroke="#111" stroke-width="4.6"/>
<path d="M837.1,546 L837.1,532 L846.1,532 L846.1,546" fill="none" stroke="#111" stroke-width="2.68" />
<path d="M622,302.6 L683.3,302.6" fill="none" stroke="#111" stroke-width="3.17" />
<path d="M652,260.2 L665.4,260.2 L665.4,284.7 L683.3,284.7" fill="none" stroke="#111" stroke-width="3.17" />
<path d="M683.3,269 L683.3,326 A50,50 0 0 0 733.3,376 L776,376" fill="none" stroke="#111" stroke-width="4.88" />
<path d="M755,377.5 L774,377.5" fill="none" stroke="#111" stroke-width="3.17" />
<path d="M757,378 L757,399" fill="none" stroke="#111" stroke-width="3.17" />
<path d="M755,398.6 L773,398.6" fill="none" stroke="#111" stroke-width="2.93" />
<path d="M755,419.3 A8.4,23.4 0 0 1 755,466" fill="none" stroke="#111" stroke-width="2.44" />
<path d="M755,486.8 L773,486.8" fill="none" stroke="#111" stroke-width="2.93" />
<path d="M757,487.7 L757,509" fill="none" stroke="#111" stroke-width="3.17" />
<path d="M725.6,238 L727,262" fill="none" stroke="#111" stroke-width="4.15" />
<path d="M729.7,238 L731,262" fill="none" stroke="#111" stroke-width="4.15" />
<path d="M740.8,238 L739,262" fill="none" stroke="#111" stroke-width="4.15" />
<path d="M746.9,238 L745,262" fill="none" stroke="#111" stroke-width="4.15" />
<path d="M687,270 C689,320 700,353 713,353 C725,353 727,320 728,268" fill="none" stroke="#111" stroke-width="5.61" />
<path d="M690,272 C700,292 716,318 724,338" fill="none" stroke="#111" stroke-width="5.61" />
<path d="M700,290 C706,322 716,350 726,351 C736,352 738,320 736,268" fill="none" stroke="#111" stroke-width="5.61" />
<path d="M733,268 C732,320 736,353 745,353 C756,353 754,318 749,268" fill="none" stroke="#111" stroke-width="5.61" />
<path d="M741,268 C741,315 737,345 728,352" fill="none" stroke="#111" stroke-width="5.61" />
<rect x="711.9" y="258.3" width="47.3" height="13.2" rx="5" fill="#111"/>
<rect x="771" y="301.4" width="13.5" height="47.6" rx="5" fill="#111"/>
<path d="M722,201.8 L722,188.5 Q722,187.1 723.5,187.1 L749.5,187.1 Q751,187.1 751,188.5 L751,201.8" fill="none" stroke="#111" stroke-width="2.93" />
<rect x="730.2" y="194.2" width="12.2" height="6" rx="2" fill="none" stroke="#111" stroke-width="2"/>
<rect x="714" y="201.8" width="44.1" height="26.4" fill="#fff" stroke="#111" stroke-width="2.6"/>
<path d="M714,208.5 L758,208.5" fill="none" stroke="#111" stroke-width="3.17" />
<path d="M714,214.5 L758,214.5" fill="none" stroke="#111" stroke-width="3.17" />
<path d="M714,221 L758,221" fill="none" stroke="#111" stroke-width="3.17" />
<rect x="717" y="228.2" width="38" height="11.8" fill="#fff" stroke="#111" stroke-width="2.6"/>
<circle cx="702.8" cy="216.5" r="7.4" fill="#fff" stroke="#111" stroke-width="2.4"/>
<circle cx="770.8" cy="216.5" r="7.4" fill="#fff" stroke="#111" stroke-width="2.4"/>
<path d="M714,203 Q706,203 706,209" fill="none" stroke="#111" stroke-width="2.44" />
<path d="M714,230 Q706,230 706,224" fill="none" stroke="#111" stroke-width="2.44" />
<path d="M758,203 Q766,203 766,209" fill="none" stroke="#111" stroke-width="2.44" />
<path d="M758,230 Q766,230 766,224" fill="none" stroke="#111" stroke-width="2.44" />
<path d="M240.7,296.1 L250.1,305.9 L236.7,318.3 L227.7,309.1 Z" fill="none" stroke="#111" stroke-width="2.81" />
<path d="M616.7,352.9 L628.9,365.3 L619.9,374.5 L607.3,362.9 Z" fill="none" stroke="#111" stroke-width="2.81" />
<path d="M232.9,731.8 L245.1,744 L235.7,753.5 L223.1,741.1 Z" fill="none" stroke="#111" stroke-width="2.81" />
<path d="M667.4,736 L676.7,744.9 L663.3,758.1 L654.3,748.6 Z" fill="none" stroke="#111" stroke-width="2.81" />
<circle cx="452.8" cy="524.2" r="139" fill="none" stroke="#111" stroke-width="1.6"/>
<rect x="353.7" y="450" width="190.2" height="136" rx="2.5" fill="#fff" stroke="#222" stroke-width="1.6"/>
<path d="M488,463 L488,481 A10,10 0 0 0 508,481 L508,463" fill="none" stroke="#cecece" stroke-width="7.5"/>
<rect x="484.5" y="455" width="7" height="3.2" fill="#d2d2d2"/><rect x="504.5" y="455" width="7" height="3.2" fill="#d2d2d2"/>
<text x="362.2" y="463" font-size="10.6" font-weight="bold" fill="#222" text-anchor="start" textLength="32.5" lengthAdjust="spacingAndGlyphs" >LIMOT</text>
<text x="398.3" y="463" font-size="7.6" font-weight="normal" fill="#444" text-anchor="start" textLength="57.3" lengthAdjust="spacingAndGlyphs" >GmbH &amp; Co. KG</text>
<text x="362.2" y="471.2" font-size="5.6" font-weight="normal" fill="#555" text-anchor="start" textLength="99.5" lengthAdjust="spacingAndGlyphs" >Lüftungstechnik, Untere Wald 13-15</text>
<text x="362.2" y="480.6" font-size="5.6" font-weight="normal" fill="#555" text-anchor="start" textLength="76.8" lengthAdjust="spacingAndGlyphs" >D-97980 Bad Mergentheim</text>
<text x="362.2" y="490" font-size="5.6" font-weight="normal" fill="#555" text-anchor="start" textLength="61.8" lengthAdjust="spacingAndGlyphs" >Tel.: (0 79 31) 94 49-0</text>
<text x="499.2" y="467" font-size="5.4" font-weight="normal" fill="#555" text-anchor="middle" textLength="52.8" lengthAdjust="spacingAndGlyphs" >Güteüberwachung:</text>
<text x="499.7" y="475.5" font-size="5.4" font-weight="normal" fill="#555" text-anchor="middle" textLength="59.9" lengthAdjust="spacingAndGlyphs" >TÜV Süddeutschland</text>
<text x="498.7" y="483.2" font-size="5.4" font-weight="normal" fill="#555" text-anchor="middle" textLength="63.9" lengthAdjust="spacingAndGlyphs" >Bau und Betrieb GmbH</text>
<path d="M367,496.5 Q363,501 363,503 A4,3.6 0 0 0 371,503 Q371,501 367,496.5 Z" fill="#222"/>
<circle cx="367" cy="502.6" r="1.3" fill="#fff"/>
<text x="372" y="505" font-size="9.2" font-weight="bold" fill="#222" text-anchor="start" textLength="50" lengthAdjust="spacingAndGlyphs" >LIMODOR</text>
<text x="431" y="498.8" font-size="5.4" font-weight="normal" fill="#555" text-anchor="start" textLength="25.6" lengthAdjust="spacingAndGlyphs" >Motortyp</text>
<text x="464.7" y="498.8" font-size="5.4" font-weight="normal" fill="#555" text-anchor="start" textLength="26.3" lengthAdjust="spacingAndGlyphs" >Regulier-</text>
<text x="495" y="498.8" font-size="5.4" font-weight="normal" fill="#555" text-anchor="start" textLength="34.7" lengthAdjust="spacingAndGlyphs" >Zulassung-</text>
<text x="422" y="507.5" font-size="5.4" font-weight="normal" fill="#555" text-anchor="start" textLength="35.6" lengthAdjust="spacingAndGlyphs" >ECM-48/25</text>
<text x="463.7" y="507.5" font-size="5.4" font-weight="normal" fill="#555" text-anchor="start" textLength="19.3" lengthAdjust="spacingAndGlyphs" >barkeit</text>
<text x="496" y="507.5" font-size="5.4" font-weight="normal" fill="#555" text-anchor="start" textLength="25.6" lengthAdjust="spacingAndGlyphs" >nummer</text>
<line x1="363.2" y1="510" x2="529.7" y2="510" stroke="#222" stroke-width="1.8"/>
<text x="362.8" y="516.5" font-size="7.2" font-weight="normal" fill="#444" text-anchor="start" textLength="41" lengthAdjust="spacingAndGlyphs" >compact 60</text>
<text x="437.3" y="518.5" font-size="7.2" font-weight="normal" fill="#444" text-anchor="start" textLength="12.5" lengthAdjust="spacingAndGlyphs" >L60</text>
<text x="472.5" y="518.5" font-size="7.2" font-weight="normal" fill="#444" text-anchor="start" textLength="7" lengthAdjust="spacingAndGlyphs" >ja</text>
<text x="492.5" y="518.5" font-size="7.2" font-weight="normal" fill="#444" text-anchor="start" textLength="38.3" lengthAdjust="spacingAndGlyphs" >Z-51.1-109</text>
<text x="362.8" y="525.8" font-size="7.2" font-weight="normal" fill="#444" text-anchor="start" textLength="45" lengthAdjust="spacingAndGlyphs" >compact 100</text>
<text x="437.3" y="527.8" font-size="7.2" font-weight="normal" fill="#444" text-anchor="start" textLength="18" lengthAdjust="spacingAndGlyphs" >L100</text>
<text x="467" y="527.8" font-size="7.2" font-weight="normal" fill="#444" text-anchor="start" textLength="15.5" lengthAdjust="spacingAndGlyphs" >nein</text>
<text x="492.5" y="527.8" font-size="7.2" font-weight="normal" fill="#444" text-anchor="start" textLength="38.3" lengthAdjust="spacingAndGlyphs" >Z-51.1-109</text>
<text x="362.8" y="535.6" font-size="7.2" font-weight="normal" fill="#444" text-anchor="start" textLength="63" lengthAdjust="spacingAndGlyphs" >compact 60-AP /H</text>
<text x="437.3" y="537.4" font-size="7.2" font-weight="normal" fill="#444" text-anchor="start" textLength="12.5" lengthAdjust="spacingAndGlyphs" >L60</text>
<text x="467" y="537.4" font-size="7.2" font-weight="normal" fill="#444" text-anchor="start" textLength="15.5" lengthAdjust="spacingAndGlyphs" >nein</text>
<text x="492.5" y="537.4" font-size="7.2" font-weight="normal" fill="#444" text-anchor="start" textLength="38.3" lengthAdjust="spacingAndGlyphs" >Z-51.1-110</text>
<text x="362.8" y="545.5" font-size="7.2" font-weight="normal" fill="#444" text-anchor="start" textLength="69" lengthAdjust="spacingAndGlyphs" >compact 100-AP /H</text>
<text x="437.3" y="547.2" font-size="7.2" font-weight="normal" fill="#444" text-anchor="start" textLength="18" lengthAdjust="spacingAndGlyphs" >L100</text>
<text x="467" y="547.2" font-size="7.2" font-weight="normal" fill="#444" text-anchor="start" textLength="15.5" lengthAdjust="spacingAndGlyphs" >nein</text>
<text x="492.5" y="547.2" font-size="7.2" font-weight="normal" fill="#444" text-anchor="start" textLength="38.3" lengthAdjust="spacingAndGlyphs" >Z-51.1-110</text>
<text x="362.8" y="553.6" font-size="7.2" font-weight="normal" fill="#444" text-anchor="start" textLength="38" lengthAdjust="spacingAndGlyphs" >compact-II</text>
<text x="437.3" y="556.5" font-size="7.2" font-weight="normal" fill="#444" text-anchor="start" textLength="18" lengthAdjust="spacingAndGlyphs" >L100</text>
<text x="472.5" y="556.5" font-size="7.2" font-weight="normal" fill="#444" text-anchor="start" textLength="7" lengthAdjust="spacingAndGlyphs" >ja</text>
<text x="492.5" y="556.5" font-size="7.2" font-weight="normal" fill="#444" text-anchor="start" textLength="38.3" lengthAdjust="spacingAndGlyphs" >Z-51.1-108</text>
<text x="468.8" y="561.7" font-size="4.3" font-weight="normal" fill="#666" text-anchor="start" textLength="61.9" lengthAdjust="spacingAndGlyphs" >Baujahr: siehe Typenschild</text>
<rect x="363.2" y="558.7" width="10.8" height="10.6" fill="#333"/><rect x="365.8" y="561.3" width="5.6" height="5.4" fill="none" stroke="#ccc" stroke-width="0.8"/>
<text x="362" y="583" font-size="11" font-weight="normal" fill="#444" text-anchor="start" textLength="30.6" lengthAdjust="spacingAndGlyphs" >IP X5</text>
<rect x="430.1" y="569" width="60.1" height="58.9" fill="#d6d6d6" stroke="#222" stroke-width="1.8"/>
</g>
</svg>
</body></html>
